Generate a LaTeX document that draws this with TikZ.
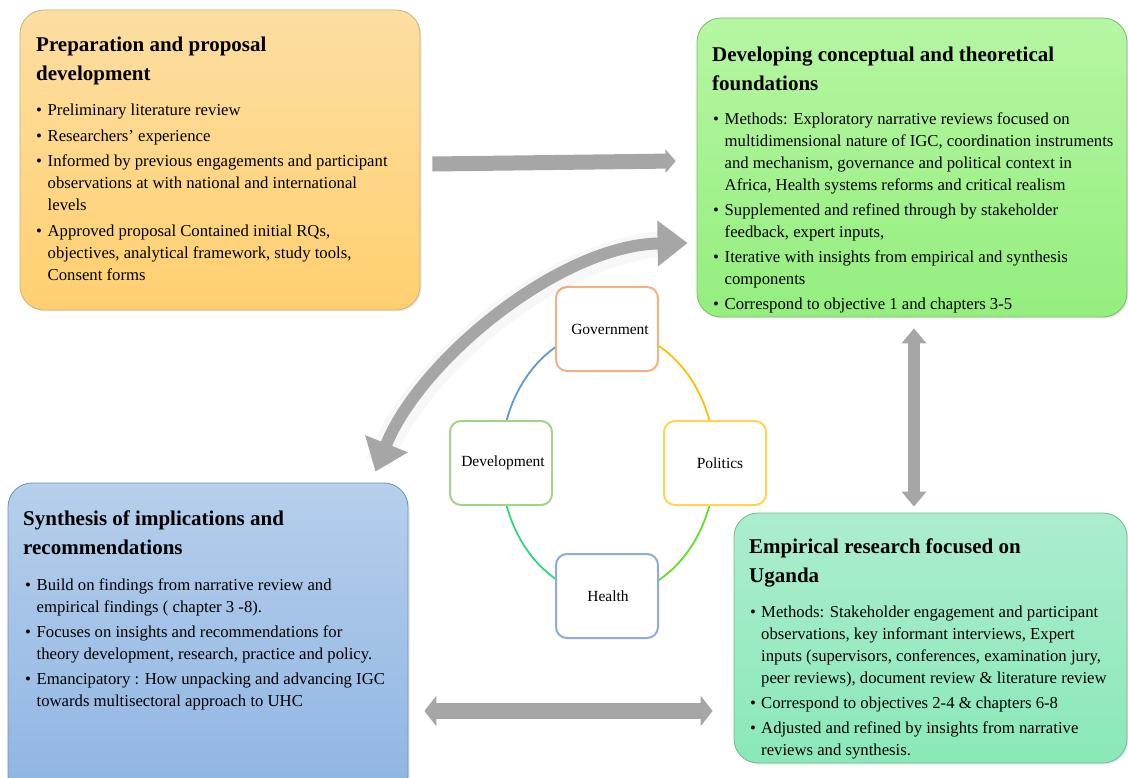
\documentclass[tikz,border=0pt]{standalone}
\usepackage{fontspec}
\setmainfont{Liberation Serif}
\usetikzlibrary{arrows.meta,calc,shadows}
\definecolor{arrowgray}{RGB}{166,166,166}
\definecolor{o1}{RGB}{253,222,162}
\definecolor{o2}{RGB}{255,208,112}
\definecolor{ob}{RGB}{205,178,120}
\definecolor{g1}{RGB}{182,246,162}
\definecolor{g2}{RGB}{148,238,126}
\definecolor{gb}{RGB}{118,190,104}
\definecolor{bl1}{RGB}{182,207,236}
\definecolor{bl2}{RGB}{143,180,226}
\definecolor{blb}{RGB}{112,142,190}
\definecolor{t1}{RGB}{172,237,206}
\definecolor{t2}{RGB}{138,232,184}
\definecolor{tb}{RGB}{108,188,148}
\definecolor{cgov}{RGB}{244,177,131}
\definecolor{cpol}{RGB}{255,212,84}
\definecolor{cdev}{RGB}{169,209,142}
\definecolor{chea}{RGB}{143,170,220}
\definecolor{arcblue}{RGB}{91,155,213}
\definecolor{arcyel}{RGB}{255,192,0}
\definecolor{arcgrn}{RGB}{100,222,40}
\definecolor{arcteal}{RGB}{52,212,132}
\begin{document}
\begin{tikzpicture}[x=1pt,y=-1pt,
  box/.style={draw, line width=0.8pt, rounded corners=24pt, inner sep=0pt,
    drop shadow={opacity=0.18, shadow xshift=1.5pt, shadow yshift=-1.5pt}},
  cyc/.style={draw, fill=white, line width=2pt, rounded corners=11pt,
    minimum width=102pt, minimum height=84pt, inner sep=0pt,
    font=\fontsize{15.5}{18}\selectfont},
  ttl/.style={anchor=base west, inner sep=0pt, font=\fontsize{21}{29}\selectfont\bfseries},
  bul/.style={anchor=base west, inner sep=0pt, font=\fontsize{16.7}{22}\selectfont},
  ring/.style={line width=1.8pt},
  fatarrow/.style={draw=arrowgray, line width=#1},
]
\useasboundingbox (0,0) rectangle (1128,778);
\clip (0,0) rectangle (1128,778);
\fill[white] (0,0) rectangle (1128,778);

% boxes
\node[box, draw=ob, top color=o1, bottom color=o2, minimum width=400pt, minimum height=300pt] (b1) at (220,160) {};
\node[box, draw=gb, top color=g1, bottom color=g2, minimum width=430pt, minimum height=299pt] (b2) at (912,167.5) {};
\node[box, draw=blb, top color=bl1, bottom color=bl2, minimum width=400pt, minimum height=317pt] (b3) at (208,641.5) {};
\node[box, draw=tb, top color=t1, bottom color=t2, minimum width=393pt, minimum height=250pt] (b4) at (930.5,638) {};

% texts box 1
\node[ttl] (h1) at (36,52) {\begin{tabular}[t]{@{}l@{}}Preparation and proposal\\development\end{tabular}};
\node[bul] (l1) at (36,116) {\begin{tabular}[t]{@{}p{11.5pt}@{}l@{}}
\textbullet & Preliminary literature review\\[3.5pt]
\textbullet & Researchers’ experience\\[3.5pt]
\textbullet & Informed by previous engagements and participant\\
 & observations at with national and international\\
 & levels\\[3.5pt]
\textbullet & Approved proposal Contained initial RQs,\\
 & objectives, analytical framework, study tools,\\
 & Consent forms
\end{tabular}};

% texts box 2
\node[ttl] (h2) at (712,62) {\begin{tabular}[t]{@{}l@{}}Developing conceptual and theoretical\\foundations\end{tabular}};
\node[bul] (l2) at (713,125) {\begin{tabular}[t]{@{}p{11.5pt}@{}l@{}}
\textbullet & Methods: Exploratory narrative reviews focused on\\
 & multidimensional nature of IGC, coordination instruments\\
 & and mechanism, governance and political context in\\
 & Africa, Health systems reforms and critical realism\\[2.5pt]
\textbullet & Supplemented and refined through by stakeholder\\
 & feedback, expert inputs,\\[3pt]
\textbullet & Iterative with insights from empirical and synthesis\\
 & components\\[3pt]
\textbullet & Correspond to objective 1 and chapters 3-5
\end{tabular}};

% texts box 3
\node[ttl] (h3) at (23,525) {\begin{tabular}[t]{@{}l@{}}Synthesis of implications and\\recommendations\end{tabular}};
\node[bul] (l3) at (25,590) {\begin{tabular}[t]{@{}p{11.5pt}@{}l@{}}
\textbullet & Build on findings from narrative review and\\
 & empirical findings ( chapter 3 -8).\\[3pt]
\textbullet & Focuses on insights and recommendations for\\
 & theory development, research, practice and policy.\\[3.5pt]
\textbullet & Emancipatory : How unpacking and advancing IGC\\
 & towards multisectoral approach to UHC
\end{tabular}};

% texts box 4
\node[ttl] (h4) at (749,553) {\begin{tabular}[t]{@{}l@{}}Empirical research focused on\\Uganda\end{tabular}};
\node[bul] (l4) at (750,617) {\begin{tabular}[t]{@{}p{11pt}@{}l@{}}
\textbullet & Methods: Stakeholder engagement and participant\\
 & observations, key informant interviews, Expert\\
 & inputs (supervisors, conferences, examination jury,\\
 & peer reviews), document review \& literature review\\[3pt]
\textbullet & Correspond to objectives 2-4 \& chapters 6-8\\[3pt]
\textbullet & Adjusted and refined by insights from narrative\\
 & reviews and synthesis.
\end{tabular}};

% central cycle
\coordinate (cc) at (608,463);
\draw[ring, arcblue] ($(cc)+(180:107 and 133)$) arc[start angle=180, end angle=270, x radius=107, y radius=133];
\draw[ring, arcyel] ($(cc)+(270:107 and 133)$) arc[start angle=270, end angle=360, x radius=107, y radius=133];
\draw[ring, arcgrn] ($(cc)+(0:107 and 133)$) arc[start angle=0, end angle=90, x radius=107, y radius=133];
\draw[ring, arcteal] ($(cc)+(90:107 and 133)$) arc[start angle=90, end angle=180, x radius=107, y radius=133];
\node[cyc, draw=cgov] (gov) at (607,329) {\hspace*{6pt}Government};
\node[cyc, draw=cpol] (pol) at (715,463) {\hspace*{10pt}Politics};
\node[cyc, draw=cdev] (dev) at (501,463) {\hspace*{4pt}Development};
\node[cyc, draw=chea] (hea) at (607,596) {\hspace*{2pt}Health};

% arrows
\draw[fatarrow=15pt, -{Triangle[length=10pt, width=23pt]}]
  ($(b1.east)+(12,4)$) -- ($(b2.west)+(-21,-6.5)$);
\draw[fatarrow=12pt, {Triangle[length=15pt, width=24pt]}-{Triangle[length=15pt, width=24pt]}]
  ($(b2.south)+(2,11)$) -- ($(b4.north)+(-16.5,-6)$);
\draw[fatarrow=16pt, {Triangle[length=12pt, width=30pt]}-{Triangle[length=12pt, width=30pt]}]
  ($(b3.east |- 0,711)+(16,0)$) -- ($(b4.west |- 0,711)+(-21,0)$);
\draw[line width=26pt, black, opacity=0.03]
  ($(b3.north east)+(-30,-20)$) .. controls (420,360) and (560,245) .. ($(b2.west)+(-20,75.5)$);
\draw[fatarrow=12pt, {Triangle[length=30pt, width=44pt]}-{Triangle[length=30pt, width=44pt]}]
  ($(b3.north east)+(-33,-11)$) .. controls (420,360) and (560,245) .. ($(b2.west)+(-9,75.5)$);
\end{tikzpicture}
\end{document}
